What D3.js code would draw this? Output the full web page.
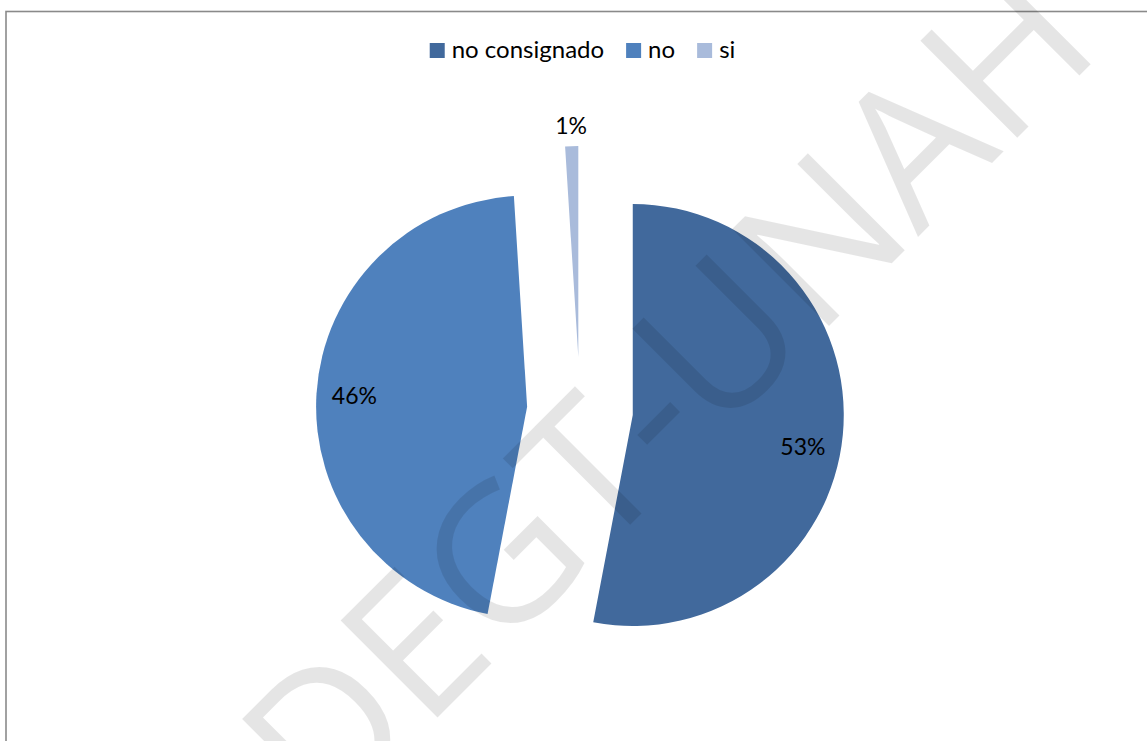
<!DOCTYPE html>
<html>
<head>
<meta charset="utf-8">
<script src="https://cdn.jsdelivr.net/npm/d3@7"></script>
<style>
  html, body { margin: 0; padding: 0; background: #fff; }
  svg { display: block; }
</style>
</head>
<body>
<svg id="chart" width="1147" height="741"></svg>
<script>
const categories = ["no consignado", "no", "si"];
const values = [53, 46, 1];
const colors = ["#41699C", "#4F81BD", "#A9BBDB"];
const watermark = "DEGT-UNAH";

const W = 1147, H = 741;
const svg = d3.select("#chart");

// chart border
svg.append("rect")
  .attr("x", 6).attr("y", 11.5)
  .attr("width", W + 50).attr("height", H + 50)
  .attr("fill", "#fff")
  .attr("stroke", "#8a8a8a")
  .attr("stroke-width", 1.6);

const cx = 580, cy = 410, R = 211, explode = 53;

const pie = d3.pie().sort(null).value(d => d)(values);
const arc = d3.arc().innerRadius(0).outerRadius(R);
const total = d3.sum(values);

const g = svg.append("g").attr("transform", `translate(${cx},${cy})`);

const slices = g.selectAll("g.slice").data(pie).enter().append("g")
  .attr("class", "slice")
  .attr("transform", d => {
    const m = (d.startAngle + d.endAngle) / 2;
    return `translate(${explode * Math.sin(m)},${-explode * Math.cos(m)})`;
  });

slices.append("path")
  .attr("d", arc)
  .attr("fill", (d, i) => colors[i]);

// labels
slices.append("text")
  .attr("transform", (d, i) => {
    const m = (d.startAngle + d.endAngle) / 2 + (i === 0 ? 0.09 : 0);
    const rr = i === 2 ? R + 20 : R * 0.82;
    return `translate(${rr * Math.sin(m)},${-rr * Math.cos(m)})`;
  })
  .attr("text-anchor", "middle")
  .attr("dy", "0.35em")
  .attr("font-family", "Lato, 'Open Sans', sans-serif")
  .attr("font-size", 23)
  .attr("fill", "#000")
  .text(d => Math.round(d.value / total * 100) + "%");

// legend
const legend = svg.append("g");
const items = legend.selectAll("g").data(categories).enter().append("g");
items.append("rect")
  .attr("width", 15).attr("height", 15)
  .attr("y", 43)
  .attr("fill", (d, i) => colors[i]);
items.append("text")
  .attr("x", 22).attr("y", 58)
  .attr("font-family", "Lato, 'Open Sans', sans-serif")
  .attr("font-size", 24)
  .attr("fill", "#000")
  .text(d => d);
let xpos = 0;
const offs = [];
items.each(function () {
  const w = d3.select(this).select("text").node().getComputedTextLength();
  offs.push(xpos);
  xpos += 22 + w + 22;
});
const totalW = xpos - 22;
const startX = 582.5 - totalW / 2;
items.attr("transform", (d, i) => `translate(${startX + offs[i]},0)`);

// watermark (semi-transparent overlay)
const s0 = -356, base = 1155;
const px = (base + Math.SQRT2 * s0) / 2, py = (base - Math.SQRT2 * s0) / 2;
svg.append("text")
  .attr("transform", `translate(${px},${py}) rotate(-45)`)
  .attr("font-family", "'Open Sans', sans-serif")
  .attr("font-size", 192)
  .attr("fill", "#000")
  .attr("fill-opacity", 0.1)
  .text(watermark);
</script>
</body>
</html>
